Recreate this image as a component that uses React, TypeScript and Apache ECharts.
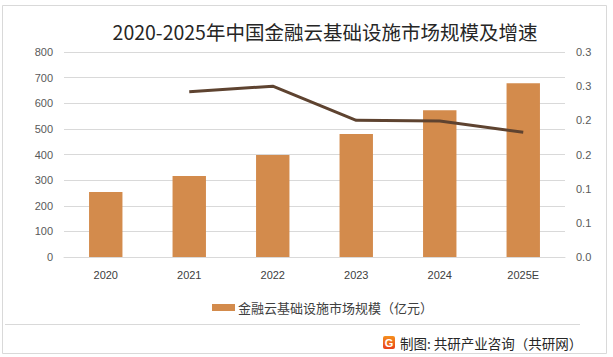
import React, { useEffect, useRef } from "react";
import * as echarts from "echarts";

const years = ["2020", "2021", "2022", "2023", "2024", "2025E"];
const marketSize = [254, 316, 398, 480, 573, 678];
const growthRate = [null, 0.242, 0.25, 0.2, 0.199, 0.1825];
const leftTicks = { min: 0, max: 800, interval: 100 };
const rightTicks = { min: 0, max: 0.3, interval: 0.05 };
const titleText = "2020-2025年中国金融云基础设施市场规模及增速";
const legendName = "金融云基础设施市场规模（亿元）";
const sourceText = "制图: 共研产业咨询（共研网）";

const CJK = '"Noto Sans CJK SC", "Noto Sans", sans-serif';
const NUM = '"Liberation Sans", "Noto Sans CJK SC", sans-serif';

export default function App() {
  const ref = useRef<HTMLDivElement>(null);
  useEffect(() => {
    if (!ref.current) return;
    const chart = echarts.init(ref.current, null, { renderer: "svg" });
    chart.setOption({
      animation: false,
      backgroundColor: "#ffffff",
      grid: { left: 64, right: 48, top: 52, bottom: 100 },
      legend: {
        data: [legendName],
        left: 207,
        top: 296,
        itemWidth: 23,
        itemHeight: 7,
        itemGap: 10,
        icon: "rect",
        textStyle: { fontFamily: CJK, fontSize: 13, color: "#404040", padding: [0, 0, 0, -2] },
      },
      xAxis: {
        type: "category",
        data: years,
        axisLine: { show: true, lineStyle: { color: "#d9d9d9", width: 1 } },
        axisTick: { show: false },
        axisLabel: { color: "#404040", fontSize: 11, fontFamily: NUM, margin: 12 },
      },
      yAxis: [
        {
          type: "value",
          ...leftTicks,
          axisLine: { show: false },
          axisTick: { show: false },
          axisLabel: { color: "#595959", fontSize: 11, fontFamily: NUM, margin: 11 },
          splitLine: { lineStyle: { color: "#d9d9d9", width: 1 } },
        },
        {
          type: "value",
          ...rightTicks,
          position: "right",
          axisLine: { show: false },
          axisTick: { show: false },
          splitLine: { show: false },
          axisLabel: {
            color: "#595959",
            fontSize: 11,
            fontFamily: NUM,
            margin: 11,
            formatter: (v: number) => (Math.round(v * 10 + 1e-9) / 10).toFixed(1),
          },
        },
      ],
      series: [
        {
          name: legendName,
          type: "bar",
          data: marketSize,
          barWidth: "40%",
          itemStyle: { color: "#d38b4c" },
        },
        {
          name: "增速",
          type: "line",
          yAxisIndex: 1,
          data: growthRate,
          symbol: "none",
          lineStyle: { color: "#5e4330", width: 3 },
        },
      ],
      graphic: [
        {
          type: "rect",
          shape: { x: 2.5, y: 5.5, width: 604, height: 348 },
          style: { fill: "none", stroke: "#d9d9d9", lineWidth: 1 },
          silent: true,
        },
        {
          type: "line",
          shape: { x1: 5, y1: 324.5, x2: 580, y2: 324.5 },
          style: { stroke: "#d9d9d9", lineWidth: 1 },
          silent: true,
        },
        {
          type: "text",
          x: 325,
          y: 31,
          style: {
            text: titleText,
            fontFamily: CJK,
            fontSize: 19.5,
            fill: "#262626",
            textAlign: "center",
            textVerticalAlign: "middle",
          },
        },
        {
          type: "rect",
          shape: { x: 383, y: 336, width: 12, height: 13, r: 2 },
          style: {
            fill: new echarts.graphic.LinearGradient(0, 0, 0, 1, [
              { offset: 0, color: "#f5901e" },
              { offset: 1, color: "#e8411a" },
            ]),
          },
        },
        {
          type: "text",
          x: 389,
          y: 342.5,
          style: {
            text: "G",
            fontFamily: NUM,
            fontWeight: "bold",
            fontSize: 11,
            fill: "#ffffff",
            textAlign: "center",
            textVerticalAlign: "middle",
          },
        },
        {
          type: "text",
          x: 400,
          y: 343,
          style: {
            text: sourceText,
            fontFamily: CJK,
            fontSize: 13.5,
            fill: "#262626",
            textAlign: "left",
            textVerticalAlign: "middle",
          },
        },
      ],
    });
    return () => chart.dispose();
  }, []);
  return (
    <div
      ref={ref}
      style={{ position: "fixed", left: 0, top: 0, width: 613, height: 357 }}
    />
  );
}
